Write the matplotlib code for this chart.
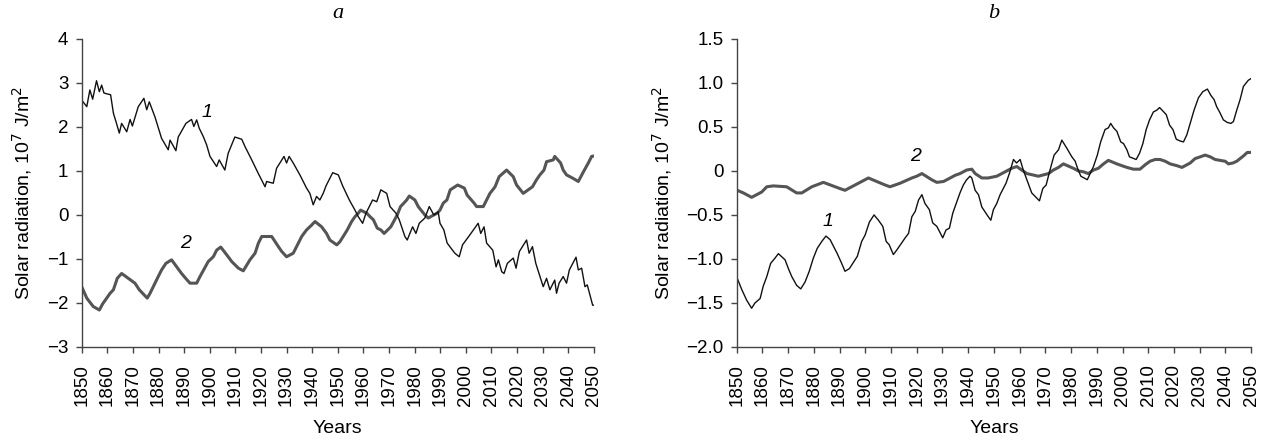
import matplotlib
matplotlib.use("Agg")
import matplotlib.pyplot as plt

# ---- data ----
# panel a, curve 1 (thin black)
a1_years = [1850, 1852, 1853.2, 1854.3, 1855.8, 1856.9, 1857.8, 1858.7, 1861.3, 1862.4, 1863.4, 1864.7, 1865.6,
            1867.6, 1868.9, 1869.8, 1872.1, 1874.3, 1875.4, 1876.4, 1878.6, 1881.2, 1883.8, 1884.5, 1886.8, 1887.7,
            1890.7, 1892.9, 1893.8, 1894.9, 1895.9, 1897.5, 1898.8, 1900.1, 1902.7, 1903.7, 1905.9, 1907.2, 1909.8,
            1912.5, 1913.8, 1916.4, 1918.9, 1921.6, 1922.2, 1924.8, 1926.1, 1929, 1930, 1931, 1932.6, 1935.2, 1937.8,
            1939.1, 1940.4, 1941.7, 1943, 1944.3, 1945.4, 1948, 1950.2, 1951.9, 1954.5, 1956.7, 1958, 1959.7, 1961,
            1963.6, 1965.2, 1966.8, 1969.1, 1970.4, 1972.7, 1974, 1976.2, 1977.1, 1979.2, 1980.5, 1981.8, 1984,
            1985.7, 1987.5, 1989.2, 1989.9, 1991.4, 1992.7, 1995.7, 1997.4, 1998.7, 2001.6, 2004.8, 2005.8, 2007.1,
            2008.1, 2010.5, 2011.8, 2012.7, 2014, 2014.9, 2016.2, 2018.5, 2019.6, 2020.9, 2023.7, 2024.7, 2026,
            2027.3, 2030.2, 2031.5, 2032.8, 2034.7, 2035.4, 2036.4, 2038, 2039.3, 2040.4, 2043, 2043.9, 2045.2,
            2046.5, 2047.4, 2049.5, 2050]
a1_vals = [2.61, 2.46, 2.84, 2.63, 3.05, 2.80, 2.95, 2.77, 2.73, 2.31, 2.12, 1.86, 2.08,
           1.89, 2.17, 2.02, 2.46, 2.65, 2.39, 2.57, 2.23, 1.74, 1.48, 1.70, 1.46, 1.77,
           2.08, 2.17, 2.01, 2.16, 1.97, 1.78, 1.59, 1.33, 1.10, 1.25, 1.02, 1.40, 1.77,
           1.72, 1.55, 1.25, 0.95, 0.64, 0.76, 0.72, 1.06, 1.33, 1.18, 1.33, 1.18, 0.91, 0.61,
           0.49, 0.23, 0.42, 0.34, 0.49, 0.66, 0.96, 0.91, 0.66, 0.34, 0.11, -0.04, -0.19, 0.04,
           0.34, 0.30, 0.57, 0.49, 0.19, 0.04, -0.11, -0.49, -0.57, -0.27, -0.42, -0.19, -0.07,
           0.19, 0.0, 0.07, -0.19, -0.34, -0.64, -0.87, -0.95, -0.68, -0.45, -0.19, -0.42, -0.27,
           -0.64, -0.80, -1.18, -1.02, -1.29, -1.33, -1.10, -0.98, -1.21, -0.83, -0.57, -0.87, -0.72,
           -1.10, -1.63, -1.44, -1.70, -1.48, -1.78, -1.55, -1.40, -1.55, -1.25, -0.96, -1.25, -1.21,
           -1.63, -1.59, -2.05, -2.05]

# panel a, curve 2 (thick grey)
a2_years = [1850, 1852, 1854.5, 1856.9, 1858.2, 1861.1, 1862.4, 1863.9, 1865.6, 1868.2, 1870.8, 1872.5, 1875.6,
            1876.7, 1879.9, 1881.2, 1882.9, 1885.1, 1889, 1891.2, 1892.3, 1894.9, 1896.2, 1899.4, 1901.4, 1902.7,
            1904.3, 1907.2, 1908.6, 1911.2, 1913.1, 1915.7, 1917.7, 1919, 1920.3, 1924.2, 1926.8, 1928.1, 1930,
            1932.6, 1934.6, 1935.9, 1937.8, 1939.8, 1941.1, 1943.7, 1945.6, 1946.9, 1949.6, 1950.8, 1952.1, 1953.7,
            1955.4, 1956.7, 1958, 1958.9, 1961.3, 1962.6, 1963.9, 1965.4, 1966.8, 1968.1, 1970.7, 1973.2, 1974.5,
            1975.8, 1976.9, 1977.9, 1980.1, 1981.4, 1984, 1985.3, 1988.8, 1989.9, 1991.2, 1992.6, 1993.9, 1996.8,
            1999.4, 2000.5, 2003.2, 2004.2, 2006.8, 2008.1, 2009.4, 2011.4, 2013, 2015.9, 2018.5, 2019.8, 2022.4,
            2026, 2027.6, 2028.9, 2030.5, 2031.5, 2034.1, 2034.7, 2037, 2038, 2039.3, 2041.9, 2043.9, 2045.9,
            2047.8, 2049.1, 2050]
a2_vals = [-1.63, -1.89, -2.08, -2.16, -2.02, -1.78, -1.70, -1.44, -1.33, -1.44, -1.55, -1.70, -1.89,
           -1.78, -1.40, -1.25, -1.10, -1.02, -1.33, -1.48, -1.55, -1.55, -1.40, -1.06, -0.95, -0.80,
           -0.73, -0.95, -1.06, -1.21, -1.27, -1.02, -0.87, -0.64, -0.49, -0.49, -0.72, -0.83, -0.95,
           -0.87, -0.64, -0.49, -0.34, -0.23, -0.15, -0.27, -0.42, -0.57, -0.68, -0.61, -0.49, -0.34,
           -0.15, -0.04, 0.04, 0.11, 0.04, -0.04, -0.11, -0.30, -0.34, -0.42, -0.27, 0.0, 0.19,
           0.27, 0.34, 0.43, 0.34, 0.19, 0.0, -0.07, 0.04, 0.11, 0.27, 0.34, 0.57, 0.68,
           0.61, 0.45, 0.27, 0.19, 0.19, 0.34, 0.49, 0.64, 0.87, 1.02, 0.87, 0.68, 0.49,
           0.64, 0.80, 0.91, 1.02, 1.21, 1.25, 1.33, 1.18, 1.02, 0.91, 0.83, 0.76, 0.98,
           1.18, 1.33, 1.34]

# panel b, curve 1 (thin black)
b1_years = [1850.2, 1852, 1853.9, 1855.8, 1857.1, 1859.1, 1860.3, 1861.7, 1863.2, 1864.9, 1866.2, 1868.8, 1870.1,
            1871.4, 1873.3, 1874.9, 1876.6, 1878.2, 1879.8, 1881.3, 1883.1, 1884.7, 1886.3, 1889.1, 1890.8, 1892.1,
            1893.8, 1896.9, 1898.6, 1899.9, 1901.6, 1903.4, 1905.1, 1906.8, 1908.1, 1909.3, 1910.9, 1912.2, 1915.5,
            1916.8, 1918.1, 1919.4, 1920.7, 1922, 1923.2, 1924.9, 1926.2, 1927.8, 1930.1, 1931.4, 1932.7, 1934,
            1935.6, 1936.8, 1938.1, 1939.4, 1940.7, 1941.4, 1942.7, 1944, 1945.3, 1947.8, 1948.8, 1949.8, 1951.1,
            1952.4, 1954.7, 1956, 1957.6, 1958.8, 1960.2, 1961.2, 1962.8, 1964.7, 1967.7, 1969, 1970.3, 1971.8,
            1973.4, 1975.1, 1976.4, 1978.3, 1980.3, 1981.6, 1982.5, 1983.8, 1986.3, 1987.4, 1988.7, 1990.2, 1991.5,
            1993.2, 1994.5, 1995.4, 1996.5, 1997.8, 1999.3, 2000.4, 2001.7, 2002.7, 2005.3, 2006.6, 2007.9, 2009.2,
            2010.5, 2012, 2013.3, 2014.4, 2017, 2018.3, 2019.6, 2020.9, 2022.4, 2023.7, 2025, 2026.3, 2027.8,
            2029.5, 2031.2, 2033, 2034.3, 2035.6, 2036.6, 2037.9, 2039.2, 2040.8, 2042.1, 2043.1, 2044.4, 2045.7,
            2047, 2048.9, 2050]
b1_vals = [-1.22, -1.35, -1.47, -1.56, -1.50, -1.45, -1.31, -1.20, -1.05, -0.99, -0.94, -1.01, -1.11,
           -1.20, -1.30, -1.34, -1.26, -1.14, -0.99, -0.88, -0.80, -0.74, -0.78, -0.94, -1.05, -1.14,
           -1.11, -0.97, -0.80, -0.73, -0.58, -0.50, -0.56, -0.63, -0.80, -0.84, -0.95, -0.90, -0.76,
           -0.71, -0.52, -0.46, -0.33, -0.27, -0.37, -0.44, -0.59, -0.63, -0.76, -0.67, -0.65, -0.48,
           -0.35, -0.25, -0.16, -0.10, -0.06, -0.08, -0.22, -0.27, -0.41, -0.52, -0.56, -0.44, -0.37,
           -0.27, -0.14, -0.03, 0.13, 0.09, 0.13, 0.03, -0.10, -0.25, -0.34, -0.20, -0.16, 0.01,
           0.18, 0.24, 0.35, 0.26, 0.16, 0.11, 0.03, -0.06, -0.10, -0.03, 0.05, 0.18, 0.33,
           0.47, 0.49, 0.54, 0.49, 0.45, 0.33, 0.31, 0.24, 0.16, 0.13, 0.20, 0.31, 0.47,
           0.58, 0.67, 0.69, 0.72, 0.64, 0.52, 0.47, 0.36, 0.34, 0.33, 0.41, 0.54, 0.69,
           0.83, 0.90, 0.93, 0.86, 0.81, 0.73, 0.66, 0.58, 0.55, 0.54, 0.56, 0.69, 0.81,
           0.96, 1.03, 1.05]

# panel b, curve 2 (thick grey)
b2_years = [1850.2, 1852.6, 1855.8, 1859.7, 1861.7, 1864.2, 1869.4, 1873.3, 1875.3, 1879.2, 1883.7, 1890.1, 1892.1,
            1896, 1898.6, 1901.2, 1907.7, 1909.6, 1913.5, 1918.1, 1920, 1922, 1925.8, 1927.8, 1930.4, 1933, 1934.9,
            1936.8, 1939.4, 1941.4, 1942.7, 1945.3, 1947.8, 1951.1, 1955, 1956.9, 1958.9, 1960.8, 1962.8, 1967.3,
            1971.2, 1973.1, 1975.1, 1977, 1980.9, 1982.8, 1984.8, 1986.7, 1988.7, 1990.6, 1992.6, 1994.5, 1997.8,
            1999.7, 2001.7, 2004.2, 2006.8, 2008.8, 2010.7, 2012.7, 2014.6, 2016.6, 2018.5, 2021.1, 2023.1, 2026.3,
            2028.2, 2030.2, 2032.1, 2034.1, 2036, 2037.9, 2039.9, 2041.2, 2042.9, 2044.4, 2045.7, 2047, 2048.5, 2050]
b2_vals = [-0.22, -0.25, -0.30, -0.24, -0.18, -0.17, -0.18, -0.25, -0.25, -0.18, -0.13, -0.20, -0.22,
           -0.16, -0.12, -0.08, -0.16, -0.18, -0.14, -0.08, -0.06, -0.03, -0.10, -0.13, -0.12, -0.08, -0.05,
           -0.03, 0.01, 0.02, -0.03, -0.08, -0.08, -0.06, 0.0, 0.03, 0.05, 0.01, -0.03, -0.06,
           -0.03, 0.01, 0.04, 0.08, 0.03, 0.0, -0.01, -0.03, 0.01, 0.03, 0.08, 0.12, 0.08,
           0.06, 0.04, 0.02, 0.02, 0.07, 0.11, 0.13, 0.13, 0.11, 0.08, 0.06, 0.04, 0.09,
           0.14, 0.16, 0.18, 0.16, 0.13, 0.12, 0.11, 0.08, 0.09, 0.11, 0.14, 0.17, 0.21, 0.21]

year_ticks = list(range(1850, 2051, 10))
a_yticks = [-3, -2, -1, 0, 1, 2, 3, 4]
b_yticks = [-2.0, -1.5, -1.0, -0.5, 0.0, 0.5, 1.0, 1.5]

plt.rcParams["font.family"] = ["Liberation Sans", "DejaVu Sans"]
plt.rcParams["font.size"] = 13

fig = plt.figure(figsize=(12.68, 4.42), dpi=100)
ax_a = fig.add_axes([0.0644, 0.215, 0.404, 0.697])
ax_b = fig.add_axes([0.581, 0.215, 0.4057, 0.697])

black = "#111111"
grey = "#555555"
ylab = "Solar radiation, 10$^{7}$ J/m$^{2}$"


def fmt_a(v):
    return "%d" % v


def fmt_b(v):
    if v == 0:
        return "0"
    return "%.1f" % v


def style_axis(ax, yticks, ylim, fmt):
    ax.set_xlim(1850, 2050)
    ax.set_ylim(*ylim)
    ax.set_xticks(year_ticks)
    ax.set_xticklabels([str(y) for y in year_ticks], rotation=90)
    ax.set_yticks(yticks)
    ax.set_yticklabels([fmt(v).replace("-", "\u2212") for v in yticks])
    for s in ["top", "right"]:
        ax.spines[s].set_visible(False)
    for s in ["left", "bottom"]:
        ax.spines[s].set_color("#444444")
        ax.spines[s].set_linewidth(1.0)
    ax.tick_params(direction="out", length=4.5, width=1.0, color="#444444", labelsize=13.5)
    ax.tick_params(axis="x", pad=8)
    ax.tick_params(axis="y", pad=5)
    ax.set_xlabel("Years", fontsize=14, labelpad=10)
    ax.set_ylabel(ylab, fontsize=14, labelpad=9)


# panel a
ax_a.plot(a2_years, a2_vals, color=grey, lw=2.2, solid_joinstyle="round")
ax_a.plot(a1_years, a1_vals, color=black, lw=1.0)
style_axis(ax_a, a_yticks, (-3, 4), fmt_a)
ax_a.text(1899, 2.32, "1", fontsize=14, style="italic", ha="center", va="center")
ax_a.text(1890.4, -0.64, "2", fontsize=14, style="italic", ha="center", va="center")
ax_a.set_title("a", fontsize=16, style="italic", family="Liberation Serif", pad=15)

# panel b
ax_b.plot(b2_years, b2_vals, color=grey, lw=2.2, solid_joinstyle="round")
ax_b.plot(b1_years, b1_vals, color=black, lw=1.0)
style_axis(ax_b, b_yticks, (-2.0, 1.5), fmt_b)
ax_b.text(1885.6, -0.58, "1", fontsize=14, style="italic", ha="center", va="center")
ax_b.text(1919.7, 0.16, "2", fontsize=14, style="italic", ha="center", va="center")
ax_b.set_title("b", fontsize=16, style="italic", family="Liberation Serif", pad=15)

fig.savefig("out.png", dpi=100)
